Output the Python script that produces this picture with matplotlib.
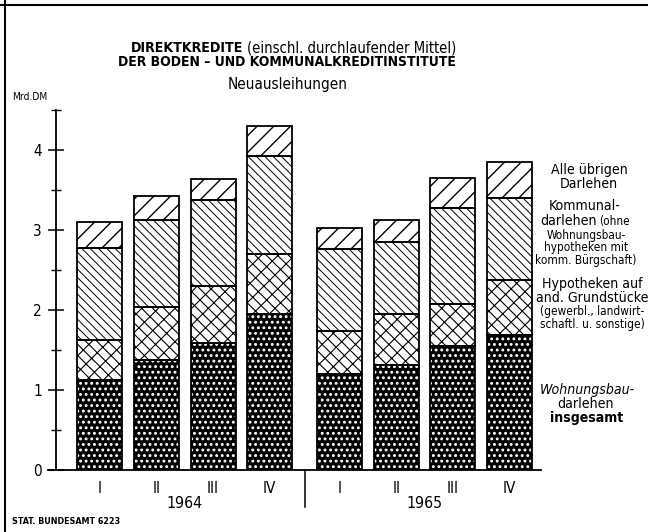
import matplotlib
matplotlib.use("Agg")
import matplotlib.pyplot as plt
from matplotlib import font_manager
from matplotlib.lines import Line2D
import matplotlib.transforms as mtransforms
import numpy as np

# ---------------- data ----------------
years = ["1964", "1965"]
quarters = ["I", "II", "III", "IV"]
wohnungsbau = [1.12, 1.37, 1.59, 1.95, 1.20, 1.31, 1.55, 1.69]
hypotheken = [0.50, 0.67, 0.71, 0.75, 0.54, 0.64, 0.53, 0.69]
kommunal = [1.15, 1.09, 1.08, 1.23, 1.02, 0.90, 1.20, 1.02]
uebrige = [0.33, 0.30, 0.26, 0.37, 0.27, 0.28, 0.37, 0.45]
y_major = [0, 1, 2, 3, 4]
y_minor = [0.5, 1.5, 2.5, 3.5, 4.5]

# ---------------- fonts ----------------
avail = {f.name for f in font_manager.fontManager.ttflist}
narrow = "Liberation Sans Narrow" if "Liberation Sans Narrow" in avail else "DejaVu Sans"
plt.rcParams["font.family"] = [narrow, "DejaVu Sans"]
plt.rcParams["font.stretch"] = "condensed"

W, H = 648, 532
fig = plt.figure(figsize=(W / 100, H / 100), dpi=100)

def px(x, y):
    return x / W, 1 - y / H

ax_l, ax_r, ax_t, ax_b = 56, 541, 110, 470
ax = fig.add_axes([ax_l / W, 1 - ax_b / H, (ax_r - ax_l) / W, (ax_b - ax_t) / H])

group_gap = 1.237
xs = np.array([g * (len(quarters) - 1 + group_gap) + q
               for g in range(len(years)) for q in range(len(quarters))])
bw = 0.795

segments = [
    (wohnungsbau, dict(facecolor="black", hatch_color="white", hatch="...", hlw=1.3)),
    (hypotheken, dict(facecolor="white", hatch_color="black", hatch="\\\\\\//", hlw=0.8)),
    (kommunal, dict(facecolor="white", hatch_color="black", hatch="\\\\\\\\", hlw=0.7)),
    (uebrige, dict(facecolor="white", hatch_color="black", hatch="//", hlw=1.0)),
]

bottom = np.zeros(len(xs))
for vals, st in segments:
    vals = np.array(vals)
    with plt.rc_context({"hatch.linewidth": st["hlw"]}):
        ax.bar(xs, vals, bw, bottom=bottom, facecolor=st["facecolor"],
               edgecolor=st["hatch_color"], hatch=st["hatch"], linewidth=0, zorder=2)
    ax.bar(xs, vals, bw, bottom=bottom, fill=False, edgecolor="black",
           linewidth=1.3, zorder=3)
    bottom += vals

ax.set_ylim(0, 4.5)
ax.set_xlim(-0.774, 7.795)
for s in ["top", "right"]:
    ax.spines[s].set_visible(False)
ax.spines["left"].set_linewidth(1.3)
ax.spines["bottom"].set_linewidth(1.3)

ax.set_yticks(y_major)
ax.set_yticklabels([str(v) for v in y_major], fontsize=11)
ax.set_yticks(y_minor, minor=True)
ax.tick_params(axis="y", which="major", direction="inout", length=12, width=1.1, pad=4)
ax.tick_params(axis="y", which="minor", direction="inout", length=6.5, width=1.0)

ax.set_xticks(xs)
ax.set_xticklabels(quarters * len(years), fontsize=11)
ax.tick_params(axis="x", which="both", length=0, pad=8)

fit_list = []

# group labels and separator
trans = mtransforms.blended_transform_factory(ax.transData, ax.transAxes)
for g, yr in enumerate(years):
    cx = xs[g * 4:(g + 1) * 4].mean()
    t = ax.text(cx, -(503 - ax_b) / (ax_b - ax_t), yr, transform=trans,
                ha="center", va="center", fontsize=13)
    fit_list.append((t, 36))
sep = (xs[3] + xs[4]) / 2
ax.add_line(Line2D([sep, sep], [0, -(507 - ax_b) / (ax_b - ax_t)], transform=trans,
                   color="black", lw=1.1, clip_on=False))
fig.add_artist(Line2D([48 / W, ax_l / W], [1 - ax_b / H] * 2, color="black", lw=1.3))

# titles etc. (x, y, text, target width px, weight, style, ha)
texts = [
    (243, 48, "DIREKTKREDITE", 113, "bold", "normal", "right"),
    (247, 48, "(einschl. durchlaufender Mittel)", 209, "normal", "normal", "left"),
    (287, 62, "DER BODEN \u2013 UND KOMMUNALKREDITINSTITUTE", 340, "bold", "normal", "center"),
    (288, 85, "Neuausleihungen", 120, "normal", "normal", "center"),
    (12, 97, "Mrd.DM", 35, "normal", "normal", "left"),
    (12, 521, "STAT. BUNDESAMT 6223", 108, "bold", "normal", "left"),
]
for x, y, s, tw, fw, sty, ha in texts:
    t = fig.text(*px(x, y), s, ha=ha, va="center", fontsize=11,
                 fontweight=fw, fontstyle=sty)
    fit_list.append((t, tw))

# annotations beside the last bar: (x, y, text, size group, weight, style)
ann = [
    (589, 177, "Alle übrigen\nDarlehen", "big", "normal", "normal"),
    (585, 206, "Kommunal-", "big", "normal", "normal"),
    (586, 248, "Wohnungsbau-\nhypotheken mit\nkomm. Bürgschaft)", "small", "normal", "normal"),
    (592, 291, "Hypotheken auf\nand. Grundstücke", "big", "normal", "normal"),
    (592, 318, "(gewerbl., landwirt-\nschaftl. u. sonstige)", "small", "normal", "normal"),
    (587, 390, "Wohnungsbau-", "big", "normal", "italic"),
    (586, 404, "darlehen", "big", "normal", "normal"),
    (587, 418, "insgesamt", "big", "bold", "normal"),
]
ann_texts = []
for x, y, s, grp, fw, sty in ann:
    t = fig.text(*px(x, y), s, ha="center", va="center", fontsize=10,
                 fontweight=fw, fontstyle=sty, multialignment="center",
                 linespacing=0.95)
    ann_texts.append((t, grp))
# split line "darlehen (ohne"
t_dar = fig.text(*px(548, 222), "darlehen", ha="left", va="center", fontsize=10)
t_ohne = fig.text(*px(592, 222), "(ohne", ha="left", va="center", fontsize=8)

fig.canvas.draw()
r = fig.canvas.get_renderer()
for t, tw in fit_list:
    w = t.get_window_extent(r).width
    if w > 0:
        t.set_fontsize(t.get_fontsize() * tw / w)

# reference sizes for the annotation groups
probe_big = fig.text(0, 0, "Hypotheken auf", fontsize=10)
probe_small = fig.text(0, 0, "(gewerbl., landwirt-", fontsize=10)
s_big = 10 * 100 / probe_big.get_window_extent(r).width
s_small = 10 * 104 / probe_small.get_window_extent(r).width
probe_big.remove()
probe_small.remove()
for t, g in ann_texts:
    t.set_fontsize(s_big if g == "big" else s_small)
t_dar.set_fontsize(s_big)
t_ohne.set_fontsize(s_small)
fig.canvas.draw()
w1 = t_dar.get_window_extent(r).width
w2 = t_ohne.get_window_extent(r).width
gap = 3
x0 = 585 - (w1 + gap + w2) / 2
t_dar.set_position(px(x0, 221))
t_ohne.set_position(px(x0 + w1 + gap, 221))

# page frame lines (top and left)
fig.add_artist(Line2D([0, 1], [1 - 5 / H] * 2, color="black", lw=1.5))
fig.add_artist(Line2D([5 / W] * 2, [0, 1], color="black", lw=1.5))

fig.savefig("out.png", dpi=100)
